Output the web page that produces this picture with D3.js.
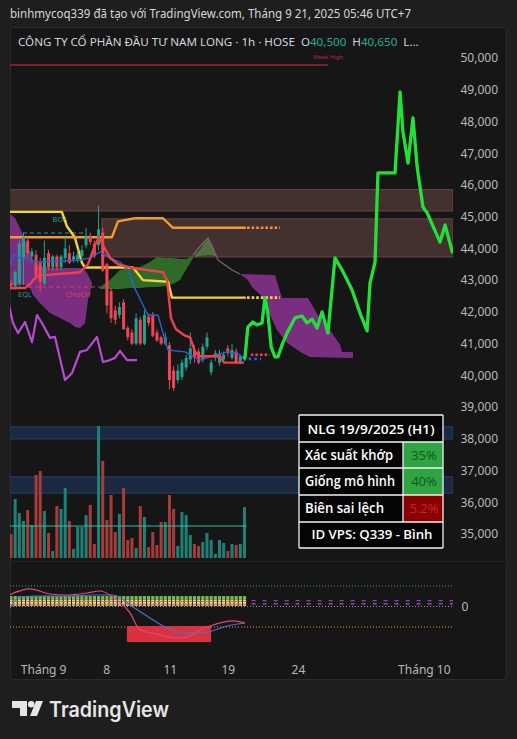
<!DOCTYPE html>
<html><head><meta charset="utf-8">
<script src="https://cdn.jsdelivr.net/npm/d3@7"></script>
<style>
html,body{margin:0;padding:0;background:#1e1e1e;}
svg{display:block;font-family:"Noto Sans","Open Sans",sans-serif;}
</style></head><body>
<svg id="c" width="517" height="739"></svg>
<script>
// ---------------- DATA ----------------
const priceTicks = [35000,36000,37000,38000,39000,40000,41000,42000,43000,44000,45000,46000,47000,48000,49000,50000];
const xTickPos = [7.7, 22.8, 38.1, 52, 68.8, 99];
const xTickLabels = ["Tháng 9","8","11","19","24","Tháng 10"];

const opens  = [42900,42800,42900,43700,44250,43750,43800,43550,42900,43850,43400,43750,43400,43700,43850,43650,43650,43750,44100,44400,44150,44100,44500,43500,42650,42050,41900,42300,41500,41350,41000,41750,41000,41850,41900,41350,41200,41000,40950,40150,39850,39950,40250,40500,40800,40750,40500,40900,40100,40550,40400,40500,40850,40550,40750,40400,40500];
const highs  = [43000,43300,44250,44500,44400,44000,43950,43700,44250,43950,43800,43800,43800,44350,44100,43900,43950,44100,44650,44500,44250,45350,44650,43550,42750,42200,42300,42400,41550,41450,41950,41850,42050,41950,42000,41450,41250,41350,41050,40300,40350,40500,40650,41350,40950,40850,41000,41350,40500,40800,40800,40750,40950,41000,40850,40650,40650];
const lows   = [42700,42700,42800,42850,43700,43550,43000,42650,42850,43300,43300,43300,43300,43550,43500,43550,43550,43650,44000,44100,43700,43950,43250,41950,41650,41600,41800,41450,41100,40950,40950,40950,40950,41550,41200,41050,40950,40950,39550,39500,39750,39850,40150,40350,40400,40350,40400,40800,40000,40450,40300,40400,40600,40500,40350,40350,40450];
const closes = [42800,43250,44150,44350,43850,43900,43150,42950,43700,43400,43750,43400,43750,44000,43550,43750,43800,43950,44400,44200,43750,44600,43300,42200,41800,41750,42150,41450,41200,41000,41800,41000,41900,41650,41250,41100,41000,41200,39850,39600,40150,40400,40550,40850,40550,40400,40900,41200,40400,40700,40700,40650,40700,40800,40400,40600,40600];
const volumes = [360,885,675,555,720,495,1245,1305,705,375,105,780,735,1050,555,135,465,465,645,795,210,1980,1455,570,945,390,660,1050,270,300,150,780,615,165,390,195,540,540,945,735,180,690,645,345,210,180,240,375,270,60,270,225,105,210,195,210,765];
const volumeMA = 480;

// indicator lines: [bar index, price]
const yellowLine = [[-0.5,45150],[12.2,45150],[13.4,44700],[15.3,44350],[17,43550],[17.7,43400],[29.26,43400],[31.65,43000],[37.65,42950],[38.6,42450],[56.1,42450]];
const yellowExt  = [[56.6,42450],[64.5,42450]];
const orangeLine = [[-0.5,44350],[24.2,44350],[25.66,44850],[29.7,44950],[36.45,44950],[38.85,44650],[56.1,44650]];
const orangeExt  = [[56.6,44650],[64.5,44650]];
const redLine = [[-0.5,42750],[3.36,42750],[4.56,42880],[6.0,43100],[7.43,43150],[16.55,43250],[18.47,43500],[20.14,44100],[21.1,44350],[22.06,44100],[23.74,43700],[25.66,43500],[28.54,43400],[36.45,43250],[37.41,43000],[38.37,41800],[39.57,41450],[41.73,41250],[42.93,41200],[44.12,40750],[45.08,40600],[50.12,40600],[51.08,40400],[55.64,40400]];
const redExt = [[57.5,40650],[62,40650]];
const blueLine = [[-0.5,43380],[0.72,43820],[2.16,43700],[6.95,43570],[16.55,43630],[18.94,43700],[21.34,43890],[23.74,43700],[26.14,43570],[28.06,43320],[29.26,42850],[30.22,42600],[31.41,42280],[32.85,41900],[35.25,41900],[36.45,41330],[37.65,40800],[41.73,40740],[43.41,40610],[45.32,40480],[47.72,40580],[51.8,40740],[54.2,40700],[55.64,40550]];
const blueExt = [[57,40520],[60,40520]];
const laggingLine = [[-0.5,42220],[0.48,41650],[1.68,41330],[3.36,41680],[5.04,41050],[6.24,41900],[7.43,41650],[9.35,41180],[10.55,41210],[12.95,39850],[14.63,40070],[16.55,40740],[18.23,40800],[20.62,41210],[22.06,40420],[23.74,40480],[24.94,40550],[26.14,40770],[27.82,40480],[30.22,40480]];
const grayLine = [[43.65,43790],[46.04,44170],[47.24,44330],[48.44,44010],[49.64,43635],[51.32,43480],[53.0,43320],[54.92,43195]];
const forecast = [[56.1,40550],[56.8,41520],[58.0,41680],[59.0,41590],[60.2,41650],[60.9,42440],[61.6,41960],[62.4,40890],[63.3,40580],[64.0,40580],[65.0,40960],[66.2,41330],[68.1,41810],[69.8,41870],[71.0,41650],[72.2,41770],[73.4,41490],[74.6,42000],[76.0,41330],[77.7,43700],[79.4,43320],[81.8,42690],[83.7,41960],[85.4,41400],[86.1,42910],[87.3,43570],[88.0,46380],[92.1,46380],[93.3,48930],[94.0,47670],[95.2,46690],[96.4,48110],[97.4,46570],[98.8,45300],[99.8,45120],[102.9,44200],[104.1,44740],[105.8,43890]];

// clouds: upper edge, lower edge
const cloud1Top = [[-0.5,45120],[0.96,44960],[2.16,44640],[3.36,44265],[4.56,43890],[5.28,43570],[6.95,43450],[9.35,43380],[16.55,43380],[17.75,43320],[18.47,43160],[19.42,42910]];
const cloud1Bot = [[-0.5,42850],[3.36,42850],[4.56,42750],[5.28,42530],[6.95,42280],[9.35,41965],[11.75,41810],[14.15,41650],[15.35,41520],[16.55,41490],[17.75,41650],[18.47,42380],[19.42,42850]];
const cloud2Top = [[21.34,42785],[23.74,43005],[26.14,43320],[28.54,43380],[30.94,43415],[33.33,43570],[35.01,43730],[36.93,43700],[38.85,43700],[40.53,43665],[42.21,43665],[43.65,43795]];
const cloud2Bot = [[21.34,42720],[26.14,42720],[28.54,42750],[30.94,42750],[33.33,42785],[35.01,42785],[36.93,42815],[38.85,42880],[40.53,43005],[42.21,43380],[43.65,43700]];
const cloud3Top = [[44.12,43790],[45.32,43950],[46.52,44200],[47.24,44300],[48.2,44110],[49.16,43790]];
const cloud3Bot = [[44.12,43730],[45.32,43760],[47.24,43790],[49.16,43760]];
const cloud4Top = [[54.9,43195],[63.3,43160],[65.0,42440],[71.2,42440],[73.6,41900],[76.5,41430],[78.9,40960],[79.4,40735],[82.0,40735]];
const cloud4Bot = [[54.9,43195],[56.8,43005],[58.0,42750],[60.4,42470],[62.1,41900],[63.8,41430],[66.2,41020],[69.8,40705],[71.7,40580],[82.0,40550]];

// zones / levels
const zones = [{from:-1, to:106, lo:45180, hi:45850},{from:21.8, to:106, lo:43730, hi:44930}];
const bands = [{lo:37995, hi:38375},{lo:36290, hi:36800}];
const weakHigh = {price:49780, from:-1, to:76};
const bosLevel = {price:44486, from:2.88, to:17.27};
const chochLevel = {price:42785, from:4.08, to:21.34};
const eqlLevel = {price:42785, from:1.44, to:3.84};
const smcLabels = [{t:"BOS", i:11.75, p:44830, c:"#1f9e8e"},{t:"EQL", i:3.36, p:42470, c:"#1f9e8e"},{t:"CHoCH", i:16.07, p:42470, c:"#d6405d"}];

// oscillator pane
const oscPink = [[-0.5,11.2],[4.56,17.1],[9.35,12.2],[13.43,11.2],[18.23,13.2],[21.34,15.1],[24.46,9.3],[28.54,-6.3],[30.94,-22.9],[35.01,-26.8],[39.81,-30.7],[42.21,-29.8],[45.32,-22.9],[48.44,-18],[53.24,-14.1],[56.12,-16.1]];
const oscBlue = [[-0.5,-3.4],[2.16,9.3],[6.95,10.2],[13.43,10.2],[19.66,11.2],[24.46,11.2],[29.26,-0.5],[33.33,-11.2],[37.41,-21],[42.21,-25.9],[47.0,-24.9],[51.8,-19],[56.12,-16.1]];
const oscBlock = {from:27.8, to:48, hi:-19, lo:-34.6};
const oscLevels = [20, 0, -20];

const legendParts = [["CÔNG TY CỔ PHẦN ĐẦU TƯ NAM LONG · 1h · HOSE  O","#d1d4dc"],["40,500","#22ab94"],["  H","#d1d4dc"],["40,650","#22ab94"],["  L...","#d1d4dc"]];
const tableRows = [["Xác suất khớp","35%"],["Giống mô hình","40%"],["Biên sai lệch","5.2%"]];

// ---------------- DRAW ----------------
const svg = d3.select("#c");
const x = d3.scaleLinear().domain([0,106]).range([11,453]);
const y = d3.scaleLinear().domain([35000,50000]).range([534,58]);
const yv = d3.scaleLinear().domain([0,1980]).range([558,426]);
const yo = d3.scaleLinear().domain([-20,20]).range([627,586]);
const L = 10, R = 453;

const defs = svg.append("defs");
defs.append("clipPath").attr("id","main").append("rect").attr("x",L).attr("y",28).attr("width",R-L).attr("height",532);
defs.append("clipPath").attr("id","osc").append("rect").attr("x",L).attr("y",563).attr("width",R-L).attr("height",88);

// panel
svg.append("rect").attr("x",0).attr("y",0).attr("width",517).attr("height",739).attr("fill","#1e1e1e");
svg.append("rect").attr("x",10.5).attr("y",27.5).attr("width",496).attr("height",652).attr("rx",3)
  .attr("fill","#161616").attr("stroke","#2b2b2b");

const g = svg.append("g").attr("clip-path","url(#main)");
const line = d3.line().x(d=>x(d[0])).y(d=>y(d[1]));
const poly = (top,bot) => line(top.concat(bot.slice().reverse())) + "Z";

zones.forEach(z=>{
  g.append("rect").attr("x",x(z.from)).attr("width",x(z.to)-x(z.from))
   .attr("y",y(z.hi)).attr("height",y(z.lo)-y(z.hi))
   .attr("fill","#43302f").attr("stroke","#6a4745").attr("stroke-width",1);
});
bands.forEach(b=>{
  g.append("rect").attr("x",L).attr("width",R-L).attr("y",y(b.hi)).attr("height",y(b.lo)-y(b.hi))
   .attr("fill","#1a2842").attr("stroke","#28406a").attr("stroke-width",1);
});

g.append("path").attr("d",poly(cloud1Top,cloud1Bot)).attr("fill","#7a2e80");
g.append("path").attr("d",poly(cloud2Top,cloud2Bot)).attr("fill","#2f6a29");
g.append("path").attr("d",poly(cloud3Top,cloud3Bot)).attr("fill","#55703f");
g.append("path").attr("d",poly(cloud4Top,cloud4Bot)).attr("fill","#7a2e80");
g.append("path").attr("d",line(grayLine)).attr("fill","none").attr("stroke","#6f6f6f").attr("stroke-width",1.2);

g.append("line").attr("x1",x(weakHigh.from)).attr("x2",x(weakHigh.to)).attr("y1",y(weakHigh.price)).attr("y2",y(weakHigh.price))
  .attr("stroke","#d0303e").attr("stroke-width",1.2);
svg.append("text").attr("x",x(weakHigh.to)).attr("y",y(weakHigh.price)-6).attr("text-anchor","middle")
  .attr("font-size",6).attr("fill","#b8283a").text("Weak High");

const vg = g.append("g");
volumes.forEach((v,i)=>{
  const up = closes[i]>=opens[i];
  vg.append("rect").attr("x",x(i)-1.5).attr("width",3).attr("y",yv(v)).attr("height",yv(0)-yv(v))
    .attr("fill",up?"#1f8176":"#a53c3c");
});
g.append("line").attr("x1",L).attr("x2",x(56)+2).attr("y1",yv(volumeMA)).attr("y2",yv(volumeMA))
  .attr("stroke","#2bbfa6").attr("stroke-width",1.2);

g.append("path").attr("d",line(laggingLine)).attr("fill","none").attr("stroke","#b94ad6").attr("stroke-width",2.2).attr("stroke-linejoin","round");

g.append("line").attr("x1",x(bosLevel.from)).attr("x2",x(bosLevel.to)).attr("y1",y(bosLevel.price)).attr("y2",y(bosLevel.price))
  .attr("stroke","#1f9e8e").attr("stroke-width",1).attr("stroke-dasharray","4,3");
g.append("line").attr("x1",x(chochLevel.from)).attr("x2",x(chochLevel.to)).attr("y1",y(chochLevel.price)).attr("y2",y(chochLevel.price))
  .attr("stroke","#d6405d").attr("stroke-width",1).attr("stroke-dasharray","4,3");
g.append("line").attr("x1",x(eqlLevel.from)).attr("x2",x(eqlLevel.to)).attr("y1",y(eqlLevel.price)).attr("y2",y(eqlLevel.price))
  .attr("stroke","#1f9e8e").attr("stroke-width",1).attr("stroke-dasharray","1,2");
smcLabels.forEach(s=>{
  g.append("text").attr("x",x(s.i)).attr("y",y(s.p)).attr("text-anchor","middle").attr("font-size",7.5)
   .attr("fill",s.c).text(s.t);
});

const lineStyle=(data,col,w,dash)=>{
  const p=g.append("path").attr("d",line(data)).attr("fill","none").attr("stroke",col).attr("stroke-width",w)
   .attr("stroke-linejoin","round").attr("stroke-linecap", dash? "butt":"round");
  if(dash) p.attr("stroke-dasharray",dash);
};
lineStyle(yellowLine,"#f3d33f",2.4);
lineStyle(yellowExt,"#f3d33f",2.6,"2.6,2");
lineStyle(orangeLine,"#f39a2e",2.4);
lineStyle(orangeExt,"#f39a2e",2.6,"2.6,2");

const cg = g.append("g");
opens.forEach((o,i)=>{
  const c = closes[i], up = c>=o, col = up?"#22a28f":"#ef4653";
  cg.append("line").attr("x1",x(i)).attr("x2",x(i)).attr("y1",y(highs[i])).attr("y2",y(lows[i])).attr("stroke",col).attr("stroke-width",1);
  const t=y(Math.max(o,c)), b=y(Math.min(o,c));
  cg.append("rect").attr("x",x(i)-1.5).attr("width",3).attr("y",t).attr("height",Math.max(1,b-t)).attr("fill",col);
});

lineStyle(blueLine,"#2d5fd8",1.4);
lineStyle(redLine,"#ee3f4e",2.4);
lineStyle(redExt,"#ee3f4e",2.6,"2.6,2");
lineStyle(blueExt,"#2d5fd8",2.6,"2.6,3");

g.append("path").attr("d",line(forecast)).attr("fill","none").attr("stroke","#22e03a").attr("stroke-width",3.3)
  .attr("stroke-linejoin","round").attr("stroke-linecap","round");

// ---------------- OSC PANE ----------------
svg.append("line").attr("x1",L).attr("x2",507).attr("y1",561.5).attr("y2",561.5).attr("stroke","#242424");
const og = svg.append("g").attr("clip-path","url(#osc)");
const lvlCol = {"20":"#2aa596","0":"#9a9a9a","-20":"#e8a030"};
oscLevels.forEach(v=>{
  og.append("line").attr("x1",L).attr("x2",R).attr("y1",yo(v)).attr("y2",yo(v))
    .attr("stroke",lvlCol[v]).attr("stroke-width",1).attr("stroke-dasharray","1,2");
});
og.append("rect").attr("x",x(oscBlock.from)).attr("width",x(oscBlock.to)-x(oscBlock.from))
  .attr("y",yo(oscBlock.hi)).attr("height",yo(oscBlock.lo)-yo(oscBlock.hi)).attr("fill","#d9323f");
opens.forEach((o,i)=>{
  og.append("rect").attr("x",x(i)-1.6).attr("width",3.2).attr("y",yo(10.2)).attr("height",yo(6.6)-yo(10.2)).attr("fill","#6fbf48");
  og.append("rect").attr("x",x(i)-1.6).attr("width",3.2).attr("y",yo(6.6)).attr("height",yo(0.6)-yo(6.6)).attr("fill","#eede52");
  og.append("rect").attr("x",x(i)-1.6).attr("width",3.2).attr("y",yo(5.4)).attr("height",1).attr("fill","#c65fd0");
  og.append("rect").attr("x",x(i)-1.6).attr("width",3.2).attr("y",yo(2.6)).attr("height",1).attr("fill","#c65fd0");
});
[5.6,2.6].forEach(v=>{
  og.append("line").attr("x1",x(57.7)).attr("x2",R).attr("y1",yo(v)).attr("y2",yo(v))
    .attr("stroke","#b14fe0").attr("stroke-width",1.2).attr("stroke-dasharray","4,7");
});
const lo = d3.line().x(d=>x(d[0])).y(d=>yo(d[1])).curve(d3.curveMonotoneX);
og.append("path").attr("d",lo(oscBlue)).attr("fill","none").attr("stroke","#4a72c4").attr("stroke-width",1.2);
og.append("path").attr("d",lo(oscPink)).attr("fill","none").attr("stroke","#e0457e").attr("stroke-width",1.2);
svg.append("text").attr("x",465).attr("y",yo(0)+4).attr("text-anchor","middle").attr("font-size",12).attr("fill","#b8b8b8").text("0");

// ---------------- AXES ----------------
const ya = svg.append("g").attr("transform",`translate(${R},0)`)
  .call(d3.axisRight(y).tickValues(priceTicks).tickFormat(d3.format(",")).tickSize(0));
ya.select(".domain").remove();
ya.selectAll("text").attr("x",45).attr("text-anchor","end").attr("fill","#b8b8b8").attr("font-size",12)
  .attr("font-family","Noto Sans, Open Sans, sans-serif");

const xa = svg.append("g").attr("transform","translate(0,651)")
  .call(d3.axisBottom(x).tickValues(xTickPos).tickFormat((d,i)=>xTickLabels[i]).tickSize(0));
xa.select(".domain").remove();
xa.selectAll("text").attr("y",14).attr("fill","#b8b8b8").attr("font-size",12)
  .attr("font-family","Noto Sans, Open Sans, sans-serif");

// ---------------- HEADER ----------------
svg.append("text").attr("x",10).attr("y",18).attr("font-size",13).attr("fill","#d6d6d6")
  .attr("textLength",401).attr("lengthAdjust","spacingAndGlyphs")
  .text("binhmycoq339 đã tạo với TradingView.com, Tháng 9 21, 2025 05:46 UTC+7");

// legend: separate texts laid out one after another, scaled to fit
const lgG = svg.append("g");
let fs = 12.5;
const parts = legendParts.map(p=>lgG.append("text").attr("y",46).attr("fill",p[1]).attr("font-size",fs)
   .style("white-space","pre").attr("xml:space","preserve").text(p[0]));
let total = parts.reduce((s,t)=>s+t.node().getComputedTextLength(),0);
fs = fs*401/total;
let cx = 18;
parts.forEach(t=>{ t.attr("font-size",fs).attr("x",cx); cx += t.node().getComputedTextLength(); });

// ---------------- TABLE ----------------
const tb = svg.append("g");
const tx0=299, tx1=443, tcol=403, rowsY=[415,442,468,495,522,548];
tb.append("rect").attr("x",tx0).attr("y",rowsY[0]).attr("width",tx1-tx0).attr("height",rowsY[5]-rowsY[0]).attr("fill","#050505");
const cellFill = ["#2ea443","#2ea443","#8a0000"], cellText=["#0f5a1c","#0f5a1c","#c4262c"];
tableRows.forEach((r,k)=>{
  tb.append("rect").attr("x",tcol).attr("y",rowsY[k+1]).attr("width",tx1-tcol).attr("height",rowsY[k+2]-rowsY[k+1]).attr("fill",cellFill[k]);
});
rowsY.forEach(v=>tb.append("line").attr("x1",tx0).attr("x2",tx1).attr("y1",v).attr("y2",v).attr("stroke","#f2f2f2").attr("stroke-width",1.3));
[tx0,tx1].forEach(v=>tb.append("line").attr("x1",v).attr("x2",v).attr("y1",rowsY[0]).attr("y2",rowsY[5]).attr("stroke","#f2f2f2").attr("stroke-width",1.3));
tb.append("line").attr("x1",tcol).attr("x2",tcol).attr("y1",rowsY[1]).attr("y2",rowsY[4]).attr("stroke","#f2f2f2").attr("stroke-width",1.3);
const tf = "Open Sans, Noto Sans, sans-serif";
tb.append("text").attr("x",(tx0+tx1)/2).attr("y",434).attr("text-anchor","middle").attr("font-size",13).attr("font-weight",600)
  .attr("font-family",tf).attr("fill","#ffffff").attr("textLength",127).attr("lengthAdjust","spacingAndGlyphs").text("NLG 19/9/2025 (H1)");
const lw=[88,90,79];
tableRows.forEach((r,k)=>{
  const by = rowsY[k+1]+17.5;
  tb.append("text").attr("x",305).attr("y",by).attr("font-size",13.5).attr("font-weight",600).attr("font-family",tf)
    .attr("fill","#ffffff").attr("textLength",lw[k]).attr("lengthAdjust","spacingAndGlyphs").text(r[0]);
  tb.append("text").attr("x",424).attr("y",by).attr("text-anchor","middle").attr("font-size",13).attr("font-family",tf)
    .attr("fill",cellText[k]).text(r[1]);
});
tb.append("text").attr("x",(tx0+tx1)/2+1).attr("y",539).attr("text-anchor","middle").attr("font-size",13).attr("font-weight",600)
  .attr("font-family",tf).attr("fill","#ffffff").attr("textLength",121).attr("lengthAdjust","spacingAndGlyphs").text("ID VPS: Q339 - Bình");

// ---------------- LOGO ----------------
const logo = svg.append("g").attr("fill","#e6e6e6");
logo.append("path").attr("d","M12,701 H27 V716 H20 V708 H12 Z");
logo.append("circle").attr("cx",31.2).attr("cy",704.3).attr("r",3.3);
logo.append("path").attr("d","M36,701 H43 L37,716 H30 Z");
svg.append("text").attr("x",49).attr("y",716.5).attr("font-size",21).attr("font-weight",600)
  .attr("font-family","Inter, Lato, sans-serif").attr("fill","#e6e6e6")
  .attr("textLength",120).attr("lengthAdjust","spacingAndGlyphs").text("TradingView");
</script>
</body></html>
